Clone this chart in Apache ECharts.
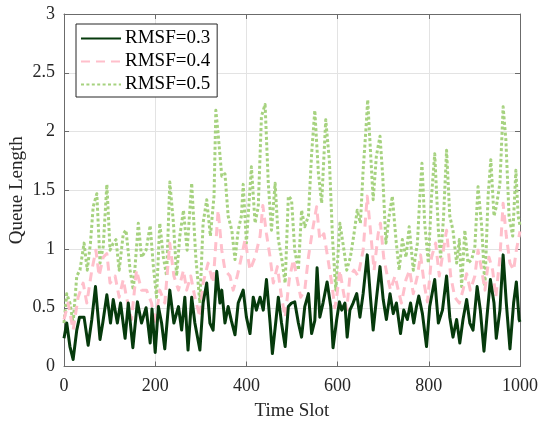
<!DOCTYPE html>
<html>
<head>
<meta charset="utf-8">
<script src="https://cdn.jsdelivr.net/npm/echarts@6/dist/echarts.min.js"></script>
<style>html,body{margin:0;padding:0;background:#fff;}#c{width:539px;height:421px;}</style>
</head>
<body>
<div id="c"></div>
<script>
// ---- data ----
const seriesNames = ['RMSF=0.3', 'RMSF=0.4', 'RMSF=0.5'];
const xTicks = [0, 200, 400, 600, 800, 1000];
const yTicks = [0, 0.5, 1, 1.5, 2, 2.5, 3];

const rmsf03Slots = [0,6,13,20,28,34,44,53,61,69,79,85,94,102,108,117,124,134,141,151,161,170,180,189,193,200,207,214,221,232,241,251,258,265,272,280,287,298,305,313,320,327,335,342,346,353,360,367,375,382,393,400,408,415,422,430,437,444,452,457,465,470,477,485,492,499,506,514,521,528,536,543,550,555,561,568,577,585,590,598,604,609,616,621,627,634,642,649,656,665,672,678,685,693,700,707,715,722,729,738,745,753,760,767,773,778,786,795,802,813,821,830,839,846,853,861,868,875,883,890,897,906,913,921,927,935,943,948,956,963,970,978,986,992,998,1000];
const rmsf03Values = [0.24,0.37,0.17,0.06,0.31,0.42,0.42,0.18,0.40,0.68,0.23,0.37,0.61,0.37,0.57,0.37,0.54,0.24,0.54,0.16,0.55,0.37,0.50,0.20,0.49,0.12,0.51,0.37,0.15,0.65,0.37,0.51,0.31,0.59,0.14,0.59,0.37,0.14,0.54,0.71,0.37,0.31,0.81,0.54,0.65,0.37,0.51,0.39,0.27,0.54,0.65,0.42,0.28,0.59,0.48,0.59,0.48,0.74,0.37,0.11,0.40,0.59,0.37,0.17,0.51,0.54,0.55,0.37,0.25,0.51,0.62,0.28,0.39,0.84,0.42,0.54,0.72,0.51,0.16,0.40,0.55,0.48,0.54,0.25,0.48,0.54,0.62,0.42,0.62,0.95,0.59,0.31,0.57,0.85,0.57,0.40,0.62,0.45,0.54,0.28,0.48,0.40,0.54,0.37,0.51,0.60,0.45,0.17,0.51,0.74,0.37,0.48,0.77,0.42,0.25,0.40,0.20,0.40,0.57,0.37,0.31,0.68,0.48,0.13,0.40,0.74,0.54,0.24,0.48,0.95,0.54,0.15,0.54,0.72,0.40,0.38];

const rmsf04Slots = [0,9,20,31,42,50,61,70,77,86,94,101,112,121,130,137,148,159,170,181,192,199,210,221,232,241,251,262,269,278,287,298,305,316,327,338,346,353,364,371,380,389,397,408,419,430,436,444,452,459,468,477,485,494,503,510,519,528,536,545,554,561,570,577,587,594,598,605,612,620,627,636,645,656,665,672,680,689,694,701,709,716,726,733,740,750,758,766,775,782,790,797,806,815,823,832,839,848,857,867,875,883,891,901,908,916,923,932,940,947,956,963,970,978,986,992,1000];
const rmsf04Values = [0.40,0.54,0.31,0.59,0.71,0.54,0.82,0.99,0.77,0.93,0.96,0.71,0.77,0.59,0.74,0.59,0.40,0.82,0.65,0.65,0.54,0.35,0.65,0.54,1.05,0.77,0.65,0.82,0.65,0.77,0.59,0.42,0.71,0.88,0.71,1.33,0.99,0.82,0.77,0.65,0.77,0.93,1.08,0.82,0.93,1.11,1.37,1.13,0.93,0.71,0.85,0.59,0.42,0.74,0.91,0.77,0.59,0.65,0.93,1.16,1.36,1.08,1.13,0.96,0.71,0.50,0.59,0.82,0.65,0.48,0.77,0.82,0.77,0.99,1.45,1.16,0.82,1.13,1.22,0.93,0.77,0.65,0.77,0.65,0.54,0.74,0.82,0.62,0.77,0.95,0.70,0.55,0.93,1.05,0.77,0.99,1.16,0.77,0.59,0.54,0.65,0.79,0.65,0.77,0.99,0.82,0.65,0.93,0.82,0.59,0.93,1.39,1.11,0.88,0.82,0.99,1.15];

const rmsf05Slots = [0,6,13,20,28,35,44,51,58,64,72,79,86,94,101,108,114,121,130,136,145,152,163,170,180,189,196,203,210,218,225,232,240,247,254,262,270,280,289,298,305,313,321,329,333,338,346,353,360,368,375,382,389,393,400,411,419,426,433,441,448,455,463,470,477,485,492,499,506,514,521,528,536,543,550,558,565,574,582,589,596,605,614,620,628,636,643,650,656,662,666,672,678,685,693,699,706,713,720,728,735,742,750,757,766,775,780,785,791,799,806,813,821,826,832,839,846,853,861,867,872,879,886,894,901,908,916,923,930,936,943,948,956,963,969,976,984,991,996,1000];
const rmsf05Values = [0.37,0.62,0.54,0.37,0.77,0.82,1.05,0.82,1.05,1.36,1.47,0.88,1.02,1.55,0.99,1.05,1.08,0.82,1.13,1.16,0.82,0.65,1.22,0.93,0.99,1.20,0.85,0.59,1.22,0.93,0.77,1.57,1.22,0.77,1.11,1.33,0.99,1.56,0.93,0.54,1.22,1.42,1.11,1.45,2.18,1.98,1.62,1.64,1.28,1.16,0.91,1.16,1.28,1.55,1.05,1.70,1.22,1.36,2.13,2.23,1.56,1.16,1.56,1.08,0.93,0.71,1.45,1.42,0.99,0.82,1.33,1.19,1.28,1.81,2.18,1.64,1.39,2.10,1.75,1.08,0.65,1.22,0.99,0.82,0.93,1.13,1.33,1.22,1.67,2.01,2.27,1.84,1.42,1.79,1.96,1.62,1.05,1.28,1.45,1.08,0.82,1.08,0.93,1.19,0.82,1.05,1.42,1.73,1.22,0.88,1.45,1.81,1.16,0.93,1.25,1.84,1.28,1.16,0.88,1.08,0.68,1.16,0.88,0.91,1.02,1.53,1.19,0.68,1.45,1.76,1.28,1.36,1.56,2.21,1.93,1.28,1.11,1.67,1.28,1.20];

// ---- build chart ----
function pairs(xs, ys) { return xs.map((x, i) => [x, ys[i]]); }

const FONT = '"Liberation Serif", "Times New Roman", serif';
const AXIS_COLOR = '#6b6b6b';
const TEXT_COLOR = '#262626';
const colors = ['#063a0c', '#ffbfcb', '#a6d27f'];
const lineTypes = ['solid', [9, 6], [3, 2.4]];
const zs = [5, 4, 3];
const dataSets = [pairs(rmsf03Slots, rmsf03Values), pairs(rmsf04Slots, rmsf04Values), pairs(rmsf05Slots, rmsf05Values)];

const chart = echarts.init(document.getElementById('c'), null, { renderer: 'canvas' });
chart.setOption({
  animation: false,
  backgroundColor: '#ffffff',
  textStyle: { fontFamily: FONT },
  grid: { left: 64, right: 19, top: 14, bottom: 54.5, containLabel: false, outerBoundsMode: 'none' },
  legend: {
    data: seriesNames,
    orient: 'vertical',
    left: 76,
    top: 24,
    itemWidth: 40,
    itemHeight: 14,
    itemGap: 4,
    padding: [5, 7, 3, 4],
    backgroundColor: '#ffffff',
    borderColor: '#262626',
    borderWidth: 1,
    borderRadius: 0,
    itemStyle: { opacity: 0 },
    textStyle: { fontFamily: FONT, fontSize: 19, color: '#000', lineHeight: 19, padding: [0, 0, 0, -1] }
  },
  xAxis: [{
    type: 'value', min: 0, max: 1000, interval: 200,
    name: 'Time Slot', nameLocation: 'middle', nameGap: 35, nameMoveOverlap: false,
    nameTextStyle: { fontFamily: FONT, fontSize: 19, color: TEXT_COLOR },
    axisLine: { show: true, onZero: false, lineStyle: { color: AXIS_COLOR, width: 1 } },
    axisTick: { show: true, inside: true, length: 5, lineStyle: { color: AXIS_COLOR } },
    axisLabel: { fontFamily: FONT, fontSize: 18, color: TEXT_COLOR, margin: 11, customValues: xTicks,
      formatter: v => String(v) },
    splitLine: { show: true, lineStyle: { color: '#e3e3e3', width: 1 } }
  }, {
    type: 'value', min: 0, max: 1000, interval: 200, position: 'top',
    axisLine: { show: true, onZero: false, lineStyle: { color: AXIS_COLOR, width: 1 } },
    axisTick: { show: true, inside: true, length: 5, lineStyle: { color: AXIS_COLOR } },
    axisLabel: { show: false }, splitLine: { show: false }
  }],
  yAxis: [{
    type: 'value', min: 0, max: 3, interval: 0.5,
    name: 'Queue Length', nameLocation: 'middle', nameGap: 37, nameMoveOverlap: false,
    nameTextStyle: { fontFamily: FONT, fontSize: 19, color: TEXT_COLOR },
    axisLine: { show: true, onZero: false, lineStyle: { color: AXIS_COLOR, width: 1 } },
    axisTick: { show: true, inside: true, length: 5, lineStyle: { color: AXIS_COLOR } },
    axisLabel: { fontFamily: FONT, fontSize: 18, color: TEXT_COLOR, margin: 9, customValues: yTicks,
      formatter: v => String(v) },
    splitLine: { show: true, lineStyle: { color: '#e3e3e3', width: 1 } }
  }, {
    type: 'value', min: 0, max: 3, interval: 0.5, position: 'right',
    axisLine: { show: true, onZero: false, lineStyle: { color: AXIS_COLOR, width: 1 } },
    axisTick: { show: true, inside: true, length: 5, lineStyle: { color: AXIS_COLOR } },
    axisLabel: { show: false }, splitLine: { show: false }
  }],
  series: seriesNames.map((name, i) => ({
    name: name,
    type: 'line',
    data: dataSets[i],
    xAxisIndex: 0, yAxisIndex: 0,
    showSymbol: false,
    symbol: 'none',
    z: zs[i],
    color: colors[i],
    lineStyle: { color: colors[i], width: 3, type: lineTypes[i], cap: 'butt', join: 'round' },
    itemStyle: { color: colors[i] },
    emphasis: { disabled: true }
  }))
});
</script>
</body>
</html>
